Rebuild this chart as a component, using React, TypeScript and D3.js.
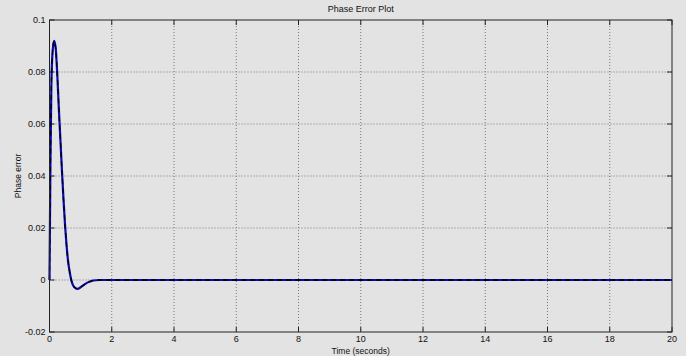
import { curveMonotoneX, line, range, scaleLinear } from 'd3'

const timeValues = [0, 0.03, 0.06, 0.1, 0.15, 0.2, 0.25, 0.3, 0.35, 0.4, 0.45, 0.5, 0.55, 0.6, 0.65, 0.7, 0.8, 0.9, 1.0, 1.1, 1.2, 1.3, 1.4, 1.6, 2, 20]
const phaseError = [0, 0.045, 0.075, 0.088, 0.092, 0.089, 0.079, 0.066, 0.054, 0.042, 0.031, 0.021, 0.013, 0.007, 0.003, 0, -0.0028, -0.0034, -0.0028, -0.0019, -0.0011, -0.0006, -0.0002, 0, 0, 0]
const xTickValues = range(0, 21, 2)
const yTickValues = [-0.02, 0, 0.02, 0.04, 0.06, 0.08, 0.1]

const width = 686
const height = 356
const margin = { top: 20, right: 14, bottom: 24, left: 49.5 }
const innerWidth = width - margin.left - margin.right
const innerHeight = height - margin.top - margin.bottom
const font = '"Liberation Sans", Arial, sans-serif'

const App = () => {
  const x = scaleLinear().domain([0, 20]).range([0, innerWidth])
  const y = scaleLinear().domain([-0.02, 0.1]).range([innerHeight, 0])

  const points = timeValues.map((t, i) => ({ t, v: phaseError[i] }))
  const path =
    line<{ t: number; v: number }>()
      .x((d) => x(d.t))
      .y((d) => y(d.v))
      .curve(curveMonotoneX)(points) ?? ''

  return (
    <svg
      width={width}
      height={height}
      style={{ position: 'absolute', left: 0, top: 0, background: '#e3e3e3', fontFamily: font }}
    >
      <rect width={width} height={height} fill="#e3e3e3" />
      <text x={margin.left + innerWidth / 2} y={12} textAnchor="middle" fontSize={9} fill="#111">
        Phase Error Plot
      </text>
      <g transform={`translate(${margin.left}, ${margin.top})`}>
        {xTickValues.map((t) => (
          <g key={`x${t}`} transform={`translate(${x(t)}, 0)`}>
            {t > 0 && t < 20 && (
              <line y1={0} y2={innerHeight} stroke="#777" strokeWidth={1} strokeDasharray="1 2" />
            )}
            <line y1={innerHeight} y2={innerHeight - 5} stroke="#222" />
            <line y1={0} y2={5} stroke="#222" />
            <text y={innerHeight + 10} textAnchor="middle" fontSize={9} fill="#111">
              {t}
            </text>
          </g>
        ))}
        {yTickValues.map((v) => (
          <g key={`y${v}`} transform={`translate(0, ${y(v)})`}>
            {v > -0.02 && v < 0.1 && (
              <line x1={0} x2={innerWidth} stroke="#777" strokeWidth={1} strokeDasharray="1 2" />
            )}
            <line x1={0} x2={5} stroke="#222" />
            <line x1={innerWidth} x2={innerWidth - 5} stroke="#222" />
            <text x={-4} dy="0.32em" textAnchor="end" fontSize={9} fill="#111">
              {v}
            </text>
          </g>
        ))}
        <path d={path} fill="none" stroke="#0a0ab4" strokeWidth={2.2} />
        <path d={path} fill="none" stroke="#000" strokeWidth={1.3} strokeDasharray="5 4" />
        <rect width={innerWidth} height={innerHeight} fill="none" stroke="#222" strokeWidth={1} />
      </g>
      <text
        transform={`translate(21, ${margin.top + innerHeight / 2}) rotate(-90)`}
        textAnchor="middle"
        fontSize={8.5}
        fill="#111"
      >
        Phase error
      </text>
      <text x={margin.left + innerWidth / 2} y={353.5} textAnchor="middle" fontSize={8.5} fill="#111">
        Time (seconds)
      </text>
    </svg>
  )
}

export default App
